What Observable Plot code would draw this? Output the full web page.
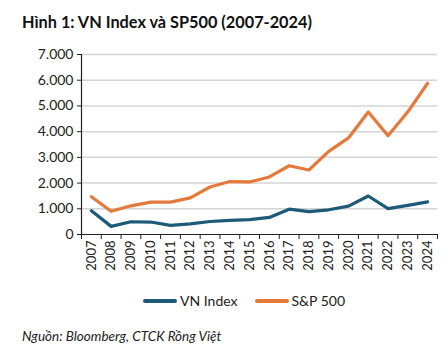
<!DOCTYPE html>
<html><head><meta charset="utf-8">
<script src="https://cdn.jsdelivr.net/npm/d3@7"></script>
<script src="https://cdn.jsdelivr.net/npm/@observablehq/plot@0.6"></script>
<style>
body{margin:0;background:#fff;font-family:Lato,"Open Sans",sans-serif;}
#wrap{width:448px;height:354px;position:relative;overflow:hidden;}
#title{position:absolute;left:22px;top:12px;font-weight:bold;font-size:16.3px;color:#111;}
#chart{position:absolute;left:0;top:40px;}
#legend{position:absolute;left:143px;top:292px;display:flex;align-items:center;font-size:14px;color:#222;white-space:nowrap;}
#legend span.sw{display:inline-block;width:34px;height:4px;border-radius:2px;margin-right:3px;}
#legend span.it{margin-right:17px;}
#caption{position:absolute;left:22px;top:328px;font-style:italic;font-size:13.5px;color:#222;}
</style></head>
<body><div id="wrap">
<div id="title">Hình 1: VN Index và SP500 (2007-2024)</div>
<div id="chart"></div>
<div id="legend"></div>
<div id="caption">Nguồn: Bloomberg, CTCK Rồng Việt</div>
</div>
<script>
const years = [2007,2008,2009,2010,2011,2012,2013,2014,2015,2016,2017,2018,2019,2020,2021,2022,2023,2024];
const vnIndex = [927,316,495,485,352,414,505,546,579,665,984,893,961,1104,1498,1007,1130,1267];
const sp500 = [1468,903,1115,1258,1258,1426,1848,2059,2044,2239,2674,2507,3231,3756,4766,3840,4770,5882];
const seriesNames = ["VN Index","S&P 500"];
const colors = ["#1d5a78","#e47a3a"];
const yTicks = [0,1000,2000,3000,4000,5000,6000,7000];

const data = [];
years.forEach((y,i)=>{
  data.push({year:y, value:vnIndex[i], series:seriesNames[0]});
  data.push({year:y, value:sp500[i], series:seriesNames[1]});
});
const bounds = d3.range(years[0]-0.5, years[years.length-1]+1, 1);
const fmt = d => d3.format(",")(d).replace(/,/g,".");

const plot = Plot.plot({
  width:448, height:240,
  marginLeft:81, marginRight:11, marginTop:14, marginBottom:46,
  style:{fontFamily:"Lato, 'Open Sans', sans-serif", fontSize:"13px", color:"#222"},
  x:{type:"linear", domain:[years[0]-0.5, years[years.length-1]+0.5], label:null},
  y:{domain:[0,7000], label:null},
  color:{domain:seriesNames, range:colors},
  marks:[
    Plot.gridY(yTicks.slice(1), {stroke:"#d4d4d4", strokeOpacity:1, strokeWidth:1.5}),
    Plot.axisY(yTicks, {tickFormat:fmt, tickSize:4, tickPadding:4, fontSize:14, stroke:"#222", label:null}),
    Plot.axisX(years, {tickFormat:d=>String(d), tickSize:0, tickRotate:-90, tickPadding:6, fontSize:13, label:null}),
    Plot.axisX(bounds, {tickFormat:()=>"", tickSize:5, stroke:"#222", label:null}),
    Plot.line(data, {x:"year", y:"value", stroke:"series", strokeWidth:3.2, strokeLinejoin:"round"}),
    Plot.ruleY([0], {stroke:"#222", strokeWidth:1.2}),
    Plot.ruleX([years[0]-0.5], {stroke:"#222", strokeWidth:1.2})
  ]
});
document.getElementById("chart").appendChild(plot);
const lg = document.getElementById("legend");
seriesNames.forEach((n,i)=>{
  lg.innerHTML += `<span class="sw" style="background:${colors[i]}"></span><span class="it">${n}</span>`;
});
</script>
</body></html>
